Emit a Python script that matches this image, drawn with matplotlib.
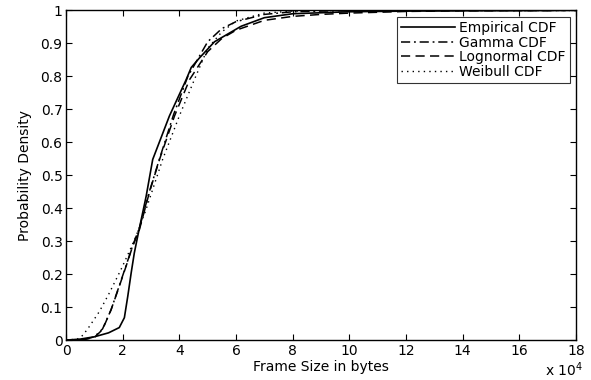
import matplotlib
matplotlib.use("Agg")
import matplotlib.pyplot as plt

plt.rcParams['font.family'] = ['DejaVu Sans']

# Frame size in units of 10^4 bytes
emp_x = [0, 0.5, 1.0, 1.5, 1.88, 2.06, 2.18, 2.30, 2.41, 2.53, 2.83, 3.06, 3.65, 4.24, 4.42,
         4.7, 5.24, 6.18, 7.0, 8.0, 10, 12, 14, 17.3]
emp_y = [0, 0.003, 0.010, 0.022, 0.038, 0.068, 0.133, 0.204, 0.264, 0.315, 0.437, 0.548, 0.68,
         0.79, 0.827, 0.855, 0.905, 0.952, 0.978, 0.99, 0.996, 0.998, 0.999, 1.0]

gam_x = [0, 0.6, 1.0, 1.29, 1.59, 1.88, 2.12, 2.35, 2.59, 2.94, 3.3, 3.8, 4.3, 5.0, 5.5,
         6.0, 7.0, 8.0, 9.0, 10, 12, 14, 18]
gam_y = [0, 0.001, 0.010, 0.034, 0.092, 0.165, 0.226, 0.286, 0.34, 0.45, 0.55, 0.685, 0.80,
         0.905, 0.945, 0.966, 0.988, 0.996, 0.998, 0.9995, 1.0, 1.0, 1.0]

logn_x = [0, 0.6, 1.0, 1.29, 1.59, 1.88, 2.12, 2.35, 2.59, 2.94, 3.3, 3.83, 4.36, 5.0, 5.5,
          6.0, 7.0, 8.0, 9.0, 10, 12, 14, 18]
logn_y = [0, 0.001, 0.008, 0.032, 0.092, 0.163, 0.224, 0.284, 0.335, 0.447, 0.548, 0.68,
          0.79, 0.875, 0.915, 0.94, 0.97, 0.982, 0.988, 0.992, 0.997, 0.999, 1.0]

weib_x = [0, 0.4, 0.6, 0.83, 1.18, 1.53, 1.94, 2.24, 2.47, 2.8, 3.41, 4.0, 4.53, 5.0, 5.5,
          6.0, 7.0, 8.0, 9.0, 10, 12, 14, 18]
weib_y = [0, 0.003, 0.015, 0.042, 0.087, 0.143, 0.214, 0.27, 0.315, 0.39, 0.548, 0.68, 0.79,
          0.885, 0.935, 0.968, 0.992, 0.998, 0.9995, 1.0, 1.0, 1.0, 1.0]

x_ticks = [0, 2, 4, 6, 8, 10, 12, 14, 16, 18]
y_ticks = [0, 0.1, 0.2, 0.3, 0.4, 0.5, 0.6, 0.7, 0.8, 0.9, 1]
y_labels = ['0', '0.1', '0.2', '0.3', '0.4', '0.5', '0.6', '0.7', '0.8', '0.9', '1']

fs = 10

fig = plt.figure(figsize=(5.91, 3.80), dpi=100)
ax = fig.add_axes([0.1117, 0.105, 0.8629, 0.8675])

ax.plot(emp_x, emp_y, color='black', lw=1.2, linestyle='-', label='Empirical CDF')
ax.plot(gam_x, gam_y, color='black', lw=1.1, linestyle=(0, (6, 2.5, 1.2, 2.5)), label='Gamma CDF')
ax.plot(logn_x, logn_y, color='black', lw=1.1, linestyle=(0, (6, 3.5)), label='Lognormal CDF')
ax.plot(weib_x, weib_y, color='black', lw=1.0, linestyle=(0, (1, 3)), label='Weibull CDF')

ax.set_xlim(0, 18)
ax.set_ylim(0, 1)
ax.set_xticks(x_ticks)
ax.set_xticklabels([str(t) for t in x_ticks])
ax.set_yticks(y_ticks)
ax.set_yticklabels(y_labels)
ax.tick_params(direction='in', top=True, right=True, length=4, width=0.8, labelsize=fs, pad=2.5)
for s in ax.spines.values():
    s.set_linewidth(1.0)

ax.set_xlabel('Frame Size in bytes', fontsize=fs, labelpad=1.5)
ax.set_ylabel('Probability Density', fontsize=fs, labelpad=6)
ax.text(1.0137, -0.108, 'x 10$^4$', transform=ax.transAxes, ha='right', va='baseline', fontsize=fs)

leg = ax.legend(loc='upper right', fontsize=fs, frameon=True, fancybox=False,
                edgecolor='black', borderpad=0.3, labelspacing=0.05, handlelength=3.9,
                handletextpad=0.3, borderaxespad=0.45)
leg.get_frame().set_linewidth(0.8)

fig.savefig('out.png', dpi=100)
